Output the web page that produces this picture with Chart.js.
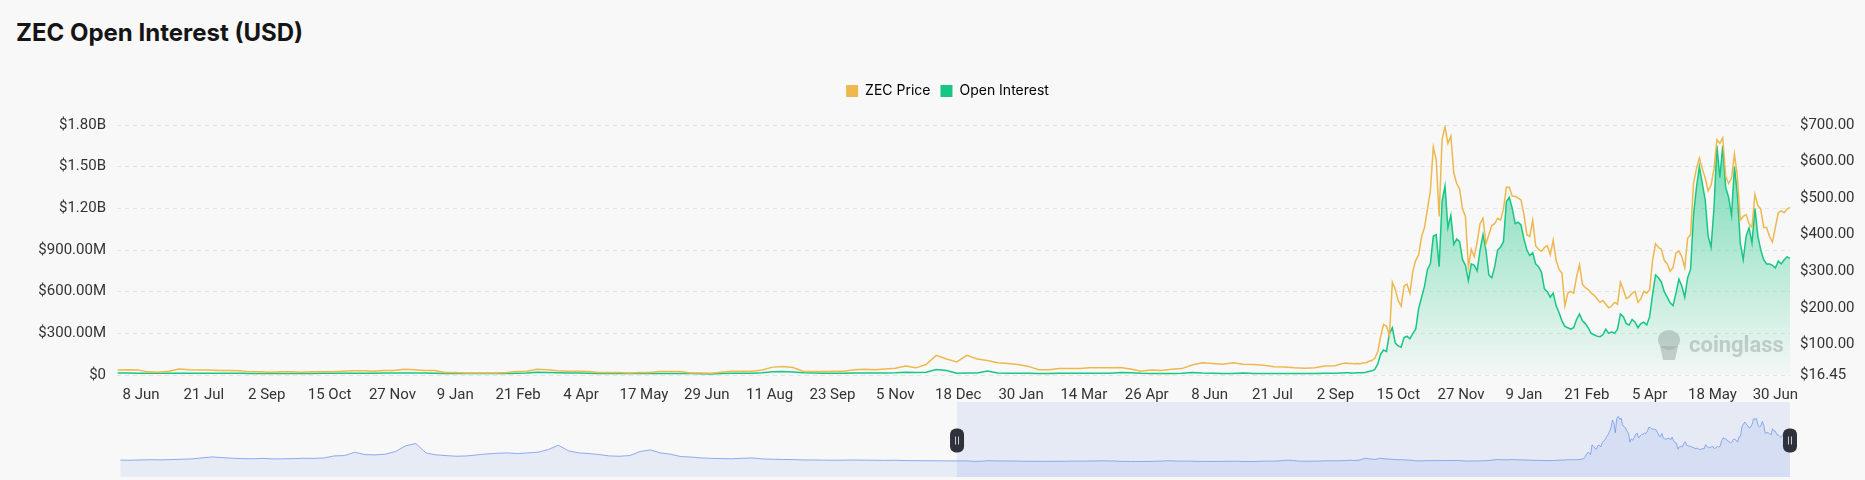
<!DOCTYPE html>
<html>
<head>
<meta charset="utf-8">
<script src="https://cdn.jsdelivr.net/npm/chart.js@4"></script>
<style>
  html, body { margin: 0; padding: 0; background: #f8f8f8; }
  body { width: 1865px; height: 480px; position: relative; overflow: hidden; }
  #title { position: absolute; left: 16px; top: 19px; font: 700 24px Inter, "Open Sans", sans-serif; color: #151515; line-height: 28px; }
  #main { position: absolute; left: 0; top: 0; }
  #nav { position: absolute; left: 0; top: 400px; }
</style>
</head>
<body>
<div id="title">ZEC Open Interest (USD)</div>
<canvas id="main" width="1865" height="410"></canvas>
<canvas id="nav" width="1865" height="80"></canvas>
<script>
// x axis: days counted from 8 Jun 2023, one label every 43 days
const xTickLabels = ['8 Jun', '21 Jul', '2 Sep', '15 Oct', '27 Nov', '9 Jan', '21 Feb', '4 Apr', '17 May', '29 Jun',
  '11 Aug', '23 Sep', '5 Nov', '18 Dec', '30 Jan', '14 Mar', '26 Apr', '8 Jun', '21 Jul', '2 Sep', '15 Oct',
  '27 Nov', '9 Jan', '21 Feb', '5 Apr', '18 May', '30 Jun'];
const tickEvery = 43;
const viewMin = -16.4;
const viewMax = 1128;

const oiTicks = [0, 3e8, 6e8, 9e8, 1.2e9, 1.5e9, 1.8e9];
const priceTicks = [16.45, 100, 200, 300, 400, 500, 600, 700];

// weekly samples, day -16 .. 817
const weeklyFrom = -16;
const priceWeekly = [30, 31, 30, 25, 24, 27, 33, 31, 30, 30, 29, 29, 28, 25, 25, 24, 25, 25, 24, 25, 25, 25, 27, 28, 28,
  27, 29, 29, 32, 31, 29, 29, 23, 23, 22, 22, 22, 22, 23, 26, 27, 32, 31, 28, 27, 27, 26, 23, 23, 23, 22,
  23, 23, 26, 26, 26, 22, 22, 21, 24, 27, 27, 27, 30, 38, 40, 37, 27, 26, 26, 27, 27, 31, 32, 31, 33, 35, 41, 36,
  45, 70, 60, 52, 70, 60, 56, 50, 48, 45, 40, 31, 31, 34, 34, 34, 36, 36, 36, 37, 33, 27,
  30, 29, 32, 34, 44, 50, 48, 46, 50, 46, 45, 43, 39, 38, 36, 35, 36, 41, 42];
const oiWeeklyM = [14, 14, 13, 12, 12, 12, 13, 13, 13, 13, 12, 12, 12, 11, 11, 11, 11, 11, 11, 11, 12, 12, 12, 13, 13,
  13, 14, 14, 15, 15, 14, 13, 11, 11, 10, 10, 10, 10, 11, 13, 15, 19, 18, 16, 15, 15, 13, 11, 10, 10, 10,
  10, 10, 11, 11, 11, 10, 9, 8, 10, 12, 12, 13, 16, 24, 25, 22, 16, 14, 13, 13, 13, 14, 14, 14, 15, 16, 19, 18,
  20, 40, 32, 13, 14, 15, 28, 14, 12, 12, 12, 11, 11, 12, 12, 12, 12, 12, 13, 18, 16, 12,
  10, 10, 10, 12, 18, 14, 12, 11, 11, 14, 11, 11, 11, 10, 10, 10, 11, 12, 13];

// every 2 days, day 820 .. 1128
const lateFrom = 820;
const priceLate = [46, 48, 49, 48, 48, 47, 48, 47, 49, 50, 54, 56, 62, 80, 122, 155, 150, 125, 270, 250,
  220, 205, 260, 265, 240, 300, 330, 345, 395, 420, 470, 520, 640, 605, 450, 660, 695, 650, 670, 570,
  540, 525, 470, 450, 310, 360, 340, 380, 430, 445, 375, 400, 425, 430, 445, 440, 470, 530, 530, 505,
  505, 500, 495, 455, 400, 395, 440, 370, 360, 355, 365, 370, 345, 385, 330, 305, 295, 205, 240, 245,
  240, 285, 318, 265, 255, 250, 240, 235, 225, 215, 220, 210, 200, 205, 215, 210, 270, 250, 225, 230,
  240, 245, 215, 225, 245, 240, 250, 330, 375, 365, 360, 330, 320, 300, 310, 350, 355, 340, 310, 390,
  400, 540, 580, 610, 580, 555, 520, 535, 580, 660, 650, 665, 560, 540, 555, 620, 560, 440, 450, 455,
  430, 420, 510, 480, 470, 420, 420, 395, 380, 420, 460, 465, 460, 470, 475];
const oiLateM = [15, 15, 16, 16, 15, 15, 16, 16, 17, 20, 25, 30, 40, 80, 150, 180, 170, 300, 340, 230,
  210, 200, 270, 280, 260, 300, 330, 480, 560, 640, 760, 800, 1000, 1010, 780, 1250, 1360, 1060, 1150, 940,
  980, 960, 830, 790, 680, 800, 790, 750, 900, 1010, 900, 720, 700, 780, 900, 920, 960, 1250, 1280, 1200,
  1090, 1100, 1080, 980, 900, 860, 880, 800, 780, 740, 620, 600, 560, 590, 500, 450, 390, 350, 340, 330,
  340, 400, 440, 390, 370, 340, 300, 290, 280, 275, 290, 330, 300, 310, 300, 330, 440, 420, 370, 360,
  400, 380, 340, 370, 380, 360, 420, 580, 720, 700, 670, 600, 560, 520, 500, 590, 690, 640, 560, 700,
  760, 1150, 1350, 1500, 1380, 1260, 1000, 920, 1200, 1650, 1420, 1650, 1350, 1280, 1150, 1500, 1300, 950, 830, 1000,
  1060, 950, 1200, 1000, 900, 830, 800, 800, 790, 770, 820, 800, 830, 850, 840];

// navigator: ZEC price before the main window, every 14 days from day -1166
const navFrom = -1166;
const navPriceEarly = [42, 40, 45, 48, 46, 50, 55, 60, 75, 90, 80, 70, 65, 62, 68, 60, 62, 65, 70, 68,
  75, 105, 110, 160, 125, 120, 130, 170, 255, 290, 150, 120, 110, 100, 105, 120, 135, 145, 150, 140,
  150, 160, 200, 265, 180, 150, 140, 125, 105, 100, 110, 170, 195, 150, 130, 95, 88, 75, 68, 65,
  62, 70, 75, 60, 55, 52, 50, 45, 44, 42, 40, 42, 44, 42, 40, 38, 40, 36, 34, 33, 32, 31];

function toPoints(from, step, values, mult) {
  return values.map((v, i) => ({ x: from + i * step, y: v * mult }));
}
const pricePts = toPoints(weeklyFrom, 7, priceWeekly, 1).concat(toPoints(lateFrom, 2, priceLate, 1));
const oiPts = toPoints(weeklyFrom, 7, oiWeeklyM, 1e6).concat(toPoints(lateFrom, 2, oiLateM, 1e6));
const navPts = toPoints(navFrom, 14, navPriceEarly, 1).concat(pricePts);

const tickFont = { family: 'Roboto, "Open Sans", sans-serif', size: 15 };
const priceColor = '#EDB84E';
const oiColor = '#16C784';

function fmtOI(v) {
  if (v === 0) return '$0';
  if (v >= 1e9) return '$' + (v / 1e9).toFixed(2) + 'B';
  return '$' + (v / 1e6).toFixed(2) + 'M';
}

// legend sits higher than chart.js would put it: add room below it
const legendGap = {
  id: 'legendGap',
  beforeInit(chart) {
    const fit = chart.legend.fit;
    chart.legend.fit = function () {
      fit.bind(chart.legend)();
      this.height += 17;
    };
  }
};

// coinglass watermark in the lower right of the plot
const watermark = {
  id: 'watermark',
  beforeDatasetsDraw(chart) {
    const ctx = chart.ctx;
    ctx.save();
    ctx.fillStyle = 'rgba(170,170,170,0.55)';
    ctx.beginPath();
    ctx.ellipse(1669, 340, 11, 10, 0, 0, Math.PI * 2);
    ctx.fill();
    ctx.beginPath();
    ctx.moveTo(1660, 346);
    ctx.lineTo(1678, 346);
    ctx.lineTo(1675, 360);
    ctx.lineTo(1663, 360);
    ctx.closePath();
    ctx.fill();
    ctx.font = 'bold 22px Roboto, sans-serif';
    ctx.textBaseline = 'alphabetic';
    ctx.fillText('coinglass', 1689, 352);
    ctx.restore();
  }
};

new Chart(document.getElementById('main'), {
  type: 'line',
  data: {
    datasets: [
      {
        label: 'ZEC Price',
        data: pricePts,
        yAxisID: 'yPrice',
        borderColor: priceColor,
        backgroundColor: priceColor,
        borderWidth: 1.5,
        pointRadius: 0,
        fill: false
      },
      {
        label: 'Open Interest',
        data: oiPts,
        yAxisID: 'yOI',
        borderColor: oiColor,
        borderWidth: 1.5,
        pointRadius: 0,
        fill: 'origin',
        backgroundColor: (c) => {
          const area = c.chart.chartArea;
          if (!area) return 'rgba(22,199,132,0.3)';
          const g = c.chart.ctx.createLinearGradient(0, area.top, 0, area.bottom);
          g.addColorStop(0, 'rgba(22,199,132,0.62)');
          g.addColorStop(1, 'rgba(22,199,132,0.02)');
          return g;
        }
      }
    ]
  },
  options: {
    responsive: false,
    animation: false,
    devicePixelRatio: 1,
    layout: { padding: { top: 74, left: 30, right: 0, bottom: 0 } },
    plugins: {
      legend: {
        position: 'top',
        labels: {
          boxWidth: 12,
          boxHeight: 12,
          padding: 10,
          color: '#4d4d4d',
          font: { family: 'Inter, Roboto, sans-serif', size: 14 },
          generateLabels: (chart) => chart.data.datasets.map((ds, i) => ({
            text: ds.label,
            fillStyle: ds.borderColor,
            strokeStyle: ds.borderColor,
            lineWidth: 0,
            hidden: false,
            datasetIndex: i
          }))
        }
      },
      tooltip: { enabled: false }
    },
    scales: {
      x: {
        type: 'linear',
        min: viewMin,
        max: viewMax,
        grid: { display: false, drawTicks: false },
        border: { display: false },
        afterBuildTicks: (scale) => { scale.ticks = xTickLabels.map((t, i) => ({ value: i * tickEvery })); },
        afterFit: (scale) => { scale.height = 35; },
        ticks: {
          autoSkip: false,
          maxRotation: 0,
          padding: 11,
          color: '#333',
          font: tickFont,
          callback: (v, i) => xTickLabels[i]
        }
      },
      yOI: {
        position: 'left',
        min: 0,
        max: 1.8e9,
        grid: { color: '#e4e4e4', drawTicks: false },
        border: { display: false, dash: [4, 4] },
        afterBuildTicks: (scale) => { scale.ticks = oiTicks.map(v => ({ value: v })); },
        afterFit: (scale) => { scale.width = 87; },
        ticks: { padding: 11, color: '#333', font: tickFont, callback: (v) => fmtOI(v) }
      },
      yPrice: {
        position: 'right',
        min: 16.45,
        max: 700,
        grid: { display: false, drawTicks: false },
        border: { display: false },
        afterBuildTicks: (scale) => { scale.ticks = priceTicks.map(v => ({ value: v })); },
        afterFit: (scale) => { scale.width = 75; },
        ticks: { padding: 10, color: '#333', font: tickFont, callback: (v) => '$' + v.toFixed(2) }
      }
    }
  },
  plugins: [legendGap, watermark]
});

// navigator strip with the selected window and its two handles
const navWindow = {
  id: 'navWindow',
  beforeDatasetsDraw(chart) {
    const { ctx, chartArea: a, scales: { x } } = chart;
    const x0 = x.getPixelForValue(viewMin);
    const x1 = x.getPixelForValue(viewMax);
    ctx.save();
    ctx.fillStyle = 'rgba(110,140,230,0.12)';
    ctx.fillRect(x0, a.top, x1 - x0, a.bottom - a.top);
    ctx.restore();
  },
  afterDraw(chart) {
    const { ctx, chartArea: a, scales: { x } } = chart;
    const cy = (a.top + a.bottom) / 2 + 1;
    [viewMin, viewMax].forEach(v => {
      const px = x.getPixelForValue(v);
      ctx.save();
      ctx.fillStyle = '#2f323a';
      ctx.beginPath();
      ctx.roundRect(px - 7, cy - 12, 14, 24, 6);
      ctx.fill();
      ctx.strokeStyle = '#c8ccd6';
      ctx.lineWidth = 1;
      ctx.beginPath();
      ctx.moveTo(px - 1.5, cy - 4); ctx.lineTo(px - 1.5, cy + 4);
      ctx.moveTo(px + 1.5, cy - 4); ctx.lineTo(px + 1.5, cy + 4);
      ctx.stroke();
      ctx.restore();
    });
  }
};

new Chart(document.getElementById('nav'), {
  type: 'line',
  data: {
    datasets: [{
      data: navPts,
      borderColor: 'rgba(110,145,235,0.75)',
      backgroundColor: 'rgba(110,145,235,0.13)',
      borderWidth: 1,
      pointRadius: 0,
      fill: 'start'
    }]
  },
  options: {
    responsive: false,
    animation: false,
    devicePixelRatio: 1,
    layout: { padding: { left: 120, right: 75, top: 2, bottom: 3 } },
    plugins: { legend: { display: false }, tooltip: { enabled: false } },
    scales: {
      x: { type: 'linear', display: false, min: navFrom - 0.4, max: viewMax },
      y: { display: false, min: -210, max: 910 }
    }
  },
  plugins: [navWindow]
});
</script>
</body>
</html>
